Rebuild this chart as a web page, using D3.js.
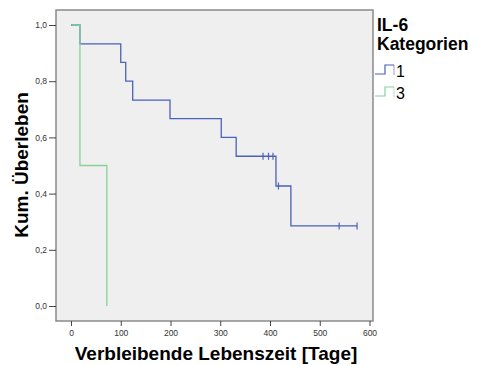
<!DOCTYPE html>
<html>
<head>
<meta charset="utf-8">
<script src="https://d3js.org/d3.v7.min.js"></script>
<style>
  body { margin: 0; background: #fff; }
  text { font-family: "Liberation Sans", Arial, sans-serif; }
</style>
</head>
<body>
<div id="chart"></div>
<script>
// survival steps (value holds from that time on)
var blueTimes = [0, 18, 100, 110, 124, 199, 302, 332, 412, 442];
var blueSurv = [1.0, 0.933, 0.867, 0.800, 0.733, 0.667, 0.600, 0.533, 0.427, 0.285];
var blueEnd = 575;
var blueCensored = [386, 397, 406, 417, 539, 575];

var greenTimes = [1, 18, 72];
var greenSurv = [1.0, 0.5, 0.0];
var greenEnd = 72;
var greenCensored = [];

var groups = ["1", "3"];
var colors = ["#4a62b8", "#86d29a"];
var xTicks = [0, 100, 200, 300, 400, 500, 600];
var yTicks = [0, 0.2, 0.4, 0.6, 0.8, 1.0];

var W = 478, H = 365;
var svg = d3.select("#chart").append("svg")
    .attr("width", W)
    .attr("height", H);

// plot area
var box = {left: 56, top: 10, right: 373, bottom: 321};
var x = d3.scaleLinear().domain([0, 600]).range([71, 369.5]);
var y = d3.scaleLinear().domain([0, 1]).range([306, 25]);

svg.append("rect")
    .attr("x", box.left)
    .attr("y", box.top)
    .attr("width", box.right - box.left)
    .attr("height", box.bottom - box.top)
    .attr("fill", "#efefef")
    .attr("stroke", "#8a8a8a")
    .attr("stroke-width", 1.5);

// axes
var fmt = function(d) { return d3.format(".1f")(d).replace(".", ","); };

var yAxis = svg.append("g")
    .attr("transform", "translate(" + box.left + ",0)")
    .call(d3.axisLeft(y).tickValues(yTicks).tickFormat(fmt).tickSize(7).tickPadding(2));

var xAxis = svg.append("g")
    .attr("transform", "translate(0," + box.bottom + ")")
    .call(d3.axisBottom(x).tickValues(xTicks).tickSize(5).tickPadding(4));

[yAxis, xAxis].forEach(function(a) {
    a.select(".domain").remove();
    a.selectAll(".tick line").attr("stroke", "#444");
    a.selectAll(".tick text")
        .attr("fill", "#333")
        .style("font-size", "8.5px")
        .style("font-family", "'Liberation Sans', Arial, sans-serif");
});

// step curves
function stepPath(times, surv, end) {
    var pts = [[times[0], surv[0]]];
    for (var i = 1; i < times.length; i++) {
        pts.push([times[i], surv[i - 1]]);
        pts.push([times[i], surv[i]]);
    }
    pts.push([end, surv[surv.length - 1]]);
    return d3.line().x(function(d) { return x(d[0]); }).y(function(d) { return y(d[1]); })(pts);
}

function survAt(times, surv, t) {
    var s = surv[0];
    for (var i = 0; i < times.length; i++) if (times[i] <= t) s = surv[i];
    return s;
}

var series = [
    {times: blueTimes, surv: blueSurv, end: blueEnd, cens: blueCensored, color: colors[0]},
    {times: greenTimes, surv: greenSurv, end: greenEnd, cens: greenCensored, color: colors[1]}
];

// blue first, green drawn over it (green hides the start of blue)
series.forEach(function(s) {
    svg.append("path")
        .attr("d", stepPath(s.times, s.surv, s.end))
        .attr("fill", "none")
        .attr("stroke", s.color)
        .attr("stroke-width", 1.3);

    svg.selectAll(null)
        .data(s.cens)
        .enter()
        .append("line")
        .attr("x1", function(d) { return x(d); })
        .attr("x2", function(d) { return x(d); })
        .attr("y1", function(d) { return y(survAt(s.times, s.surv, d)) - 3.5; })
        .attr("y2", function(d) { return y(survAt(s.times, s.surv, d)) + 3.5; })
        .attr("stroke", s.color)
        .attr("stroke-width", 1.2);
});

// axis titles
svg.append("text")
    .attr("x", 216)
    .attr("y", 360)
    .attr("text-anchor", "middle")
    .style("font-size", "19px")
    .style("font-weight", "bold")
    .text("Verbleibende Lebenszeit [Tage]");

svg.append("text")
    .attr("transform", "translate(28,165) rotate(-90)")
    .attr("text-anchor", "middle")
    .style("font-size", "19px")
    .style("font-weight", "bold")
    .text("Kum. Überleben");

// legend
svg.append("text")
    .attr("x", 377)
    .attr("y", 31)
    .style("font-size", "17.5px")
    .style("font-weight", "bold")
    .text("IL-6");
svg.append("text")
    .attr("x", 377)
    .attr("y", 50)
    .style("font-size", "17.5px")
    .style("font-weight", "bold")
    .text("Kategorien");

groups.forEach(function(g, i) {
    var by = 74 + i * 22;
    svg.append("path")
        .attr("d", "M375," + by + "H385V" + (by - 9) + "H394")
        .attr("fill", "none")
        .attr("stroke", colors[i])
        .attr("stroke-width", 1.2);
    svg.append("line")
        .attr("x1", 394).attr("x2", 394)
        .attr("y1", by - 9).attr("y2", by + 1)
        .attr("stroke", colors[i])
        .attr("stroke-opacity", 0.5)
        .attr("stroke-width", 1.2);
    svg.append("text")
        .attr("x", 396)
        .attr("y", by + 3)
        .style("font-size", "16px")
        .text(g);
});
</script>
</body>
</html>
